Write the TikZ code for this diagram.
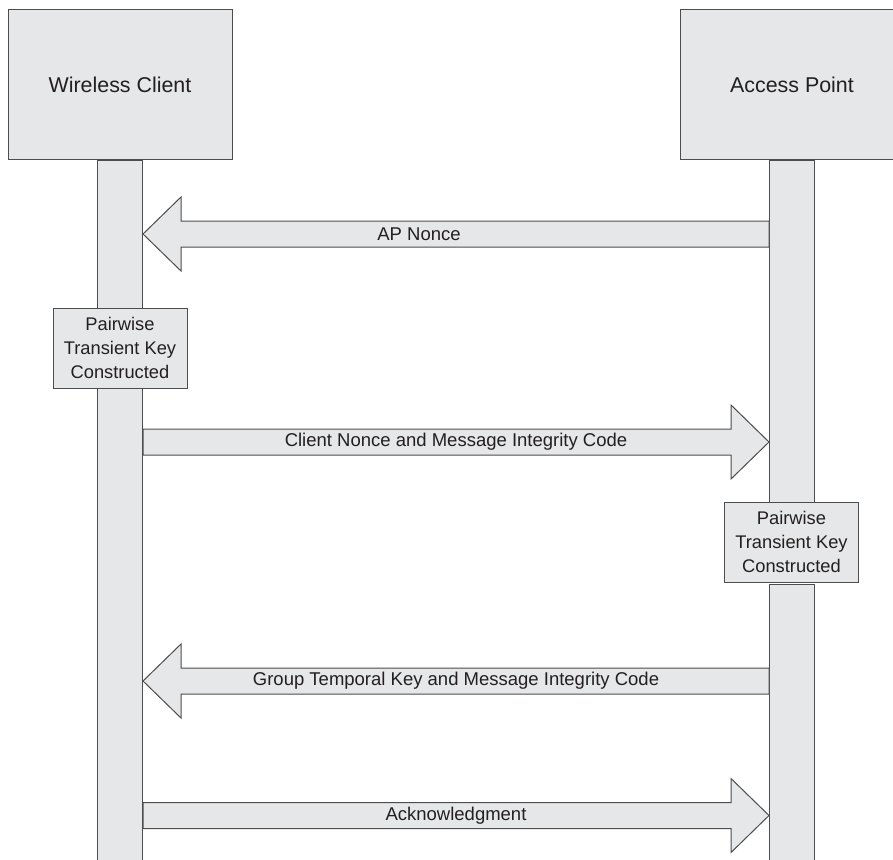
\documentclass[tikz,border=0pt]{standalone}
\usepackage{fontspec}
\setmainfont{Liberation Sans}
\usetikzlibrary{calc}

\definecolor{boxfill}{HTML}{E6E7E8}
\definecolor{boxline}{HTML}{4D4D4D}
\definecolor{ink}{HTML}{231F20}

\tikzset{
  actor/.style={draw=boxline, fill=boxfill, line width=1pt, minimum width=224pt,
    minimum height=149pt, inner sep=0pt, text=ink, font=\fontsize{21.4}{25}\selectfont},
  bar/.style={draw=boxline, fill=boxfill, line width=1pt, minimum width=45pt,
    inner sep=0pt, anchor=north},
  note/.style={draw=boxline, fill=boxfill, line width=1pt, minimum width=134pt,
    minimum height=80pt, inner sep=0pt, align=center, text=ink,
    font=\fontsize{18.3}{24}\selectfont},
  msg/.style={draw=boxline, fill=boxfill, line width=1pt, line join=miter},
  lbl/.style={inner sep=0pt, text=ink, font=\fontsize{18.5}{22}\selectfont},
}

% block arrow from tail #1 to tip #2 (horizontal)
\newcommand\blockarrow[2]{%
  \draw[msg] ($(#1)+(0,-13)$) -- ($(#2)!38pt!(#1)+(0,-13)$)
    -- ($(#2)!38pt!(#1)+(0,-37)$) -- (#2)
    -- ($(#2)!38pt!(#1)+(0,37)$) -- ($(#2)!38pt!(#1)+(0,13)$)
    -- ($(#1)+(0,13)$) -- cycle;
}

\begin{document}
\begin{tikzpicture}[x=1pt, y=-1pt]
  \useasboundingbox (0,0) rectangle (893,859);
  \clip (0,0) rectangle (893,859);

  % participants
  \path (120,84.5) node[actor] (wc) {}
        (792,84.5) node[actor] (ap) {};

  % lifelines
  \node[bar, minimum height=721pt] (wcl) at (wc.south) {};
  \node[bar, minimum height=343pt] (apl1) at (ap.south) {};
  \node[bar, minimum height=300pt] (apl2) at (792,584) {};

  % key construction notes
  \node[note] (n1) at (120,348) {Pairwise\\Transient Key\\Constructed};
  \node[note] (n2) at (791.5,542) {Pairwise\\Transient Key\\Constructed};

  % message end points
  \coordinate (m1t) at (apl1.west |- 0,234);
  \coordinate (m1h) at (wcl.east |- 0,234);
  \coordinate (m2t) at (wcl.east |- 0,442);
  \coordinate (m2h) at (apl1.west |- 0,442);
  \coordinate (m3t) at (apl2.west |- 0,681);
  \coordinate (m3h) at (wcl.east |- 0,681);
  \coordinate (m4t) at (wcl.east |- 0,815.5);
  \coordinate (m4h) at (apl2.west |- 0,815.5);

  \blockarrow{m1t}{m1h}
  \blockarrow{m2t}{m2h}
  \blockarrow{m3t}{m3h}
  \blockarrow{m4t}{m4h}

  % participant boxes drawn over lifeline tops
  \node[actor] (wcb) at (wc) {Wireless Client};
  \node[actor] (apb) at (ap) {Access Point};

  % message labels
  \node[lbl] at ($(m1t)!0.5!(m1h)+(-37,0)$) {AP Nonce};
  \node[lbl] at ($(m2t)!0.5!(m2h)$) {Client Nonce and Message Integrity Code};
  \node[lbl] at ($(m3t)!0.5!(m3h)$) {Group Temporal Key and Message Integrity Code};
  \node[lbl] at ($(m4t)!0.5!(m4h)$) {Acknowledgment};
\end{tikzpicture}
\end{document}
